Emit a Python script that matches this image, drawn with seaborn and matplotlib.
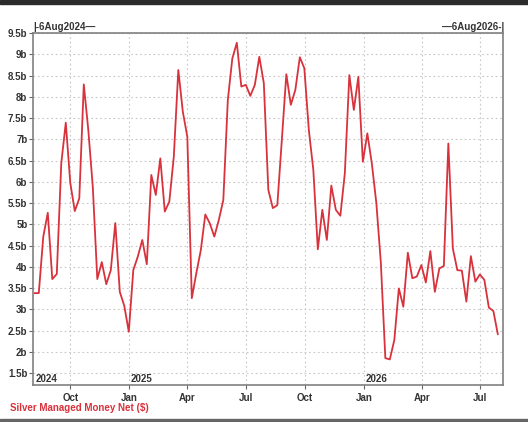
import pandas as pd
import seaborn as sns
import matplotlib.dates as mdates
from matplotlib import pyplot as plt
from matplotlib.patches import Rectangle
from matplotlib.transforms import blended_transform_factory

# weekly COT readings, billions of $
start_date = '2024-08-06'
net_b = [3.38, 3.38, 4.71, 5.27, 3.71, 3.83, 6.44, 7.39, 5.97, 5.31,
         5.61, 8.29, 7.22, 5.88, 3.71, 4.11, 3.59, 3.92, 5.03, 3.41,
         3.08, 2.47, 3.92, 4.24, 4.63, 4.06, 6.16, 5.69, 6.55, 5.30,
         5.53, 6.59, 8.63, 7.65, 7.06, 3.26, 3.85, 4.39, 5.23, 5.02,
         4.71, 5.10, 5.57, 7.92, 8.90, 9.27, 8.24, 8.28, 8.02, 8.28,
         8.94, 8.32, 5.81, 5.38, 5.45, 6.98, 8.53, 7.81, 8.16, 8.93,
         8.67, 7.22, 6.28, 4.41, 5.34, 4.63, 5.91, 5.34, 5.20, 6.20,
         8.51, 7.69, 8.47, 6.47, 7.14, 6.43, 5.50, 4.10, 1.85, 1.82,
         2.28, 3.49, 3.06, 4.33, 3.73, 3.77, 4.04, 3.63, 4.37, 3.41,
         3.96, 4.02, 6.90, 4.43, 3.92, 3.91, 3.18, 4.25, 3.65, 3.82,
         3.69, 3.04, 2.96, 2.41]
y_ticks = [1.5, 2, 2.5, 3, 3.5, 4, 4.5, 5, 5.5, 6, 6.5, 7, 7.5, 8, 8.5, 9, 9.5]
year_marks = ['2024-08-08', '2025-01-03', '2026-01-03']
year_names = ['2024', '2025', '2026']

df = pd.DataFrame({'date': pd.date_range(start_date, periods=len(net_b), freq='7D'),
                   'net': net_b})

sns.set_style('white')
plt.rcParams['font.family'] = ['Liberation Sans', 'DejaVu Sans']
plt.rcParams['font.weight'] = 'bold'

fig = plt.figure(figsize=(5.28, 4.22), dpi=100)
ax = fig.add_axes([33 / 528, 1 - 385 / 422, 470 / 528, 352 / 422])

red = '#d8323c'
sns.lineplot(data=df, x='date', y='net', ax=ax, color=red, linewidth=1.3)

ax.set_xlim(pd.Timestamp('2024-08-04'), pd.Timestamp('2026-08-05'))
ax.set_ylim(1.218, 9.5)
ax.set_yticks(y_ticks)
ax.set_yticklabels([f'{t:g}b' for t in y_ticks])
ax.xaxis.set_major_locator(mdates.MonthLocator(bymonth=[1, 4, 7, 10]))
ax.xaxis.set_major_formatter(mdates.DateFormatter('%b'))
ax.set_xlabel('')
ax.set_ylabel('')

txt = '#333333'
fs = 7
ax.tick_params(axis='both', which='major', length=3, width=0.8, color='#666666',
               labelsize=fs, labelcolor=txt, pad=1, direction='out', bottom=True, left=True)
ax.tick_params(axis='x', pad=3)
ax.grid(True, color='#c8c8c8', linestyle=(0, (1.5, 2.5)), linewidth=0.8)
for s in ax.spines.values():
    s.set_color('#808080')
    s.set_linewidth(1.2)

tr = blended_transform_factory(ax.transData, ax.transAxes)
for d, name in zip(year_marks, year_names):
    ax.text(pd.Timestamp(d), 0.017, name, transform=tr, ha='left', va='center',
            fontsize=fs, color=txt, fontweight='bold')

fig.text(33 / 528, 1 - 27 / 422, '|-6Aug2024\u2014', ha='left', va='center',
         fontsize=fs, color=txt, fontweight='bold')
fig.text(504 / 528, 1 - 27 / 422, '\u20146Aug2026-|', ha='right', va='center',
         fontsize=fs, color=txt, fontweight='bold')
fig.text(10 / 528, 1 - 408 / 422, 'Silver Managed Money Net ($)', ha='left', va='center',
         fontsize=fs, color=red, fontweight='bold')

# dark bands at top and bottom of the screenshot
fig.patches.append(Rectangle((0, 1 - 4 / 422), 1, 4 / 422, transform=fig.transFigure,
                             color='#2b2b2b', zorder=0))
fig.patches.append(Rectangle((0, 0), 1, 3 / 422, transform=fig.transFigure,
                             color='#666666', zorder=0))

plt.savefig('out.png', dpi=100)
